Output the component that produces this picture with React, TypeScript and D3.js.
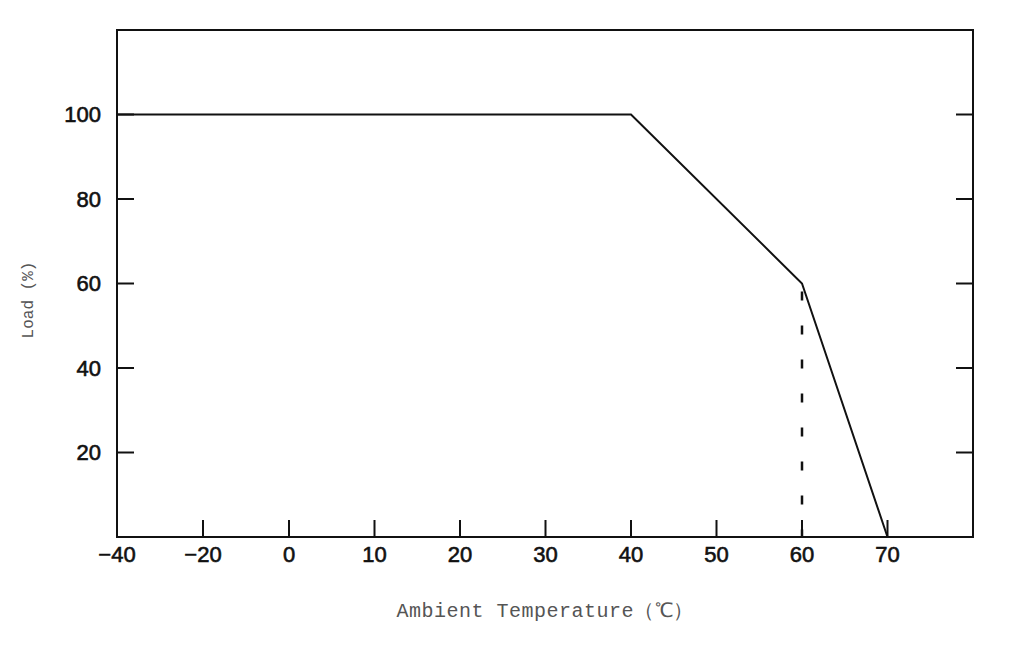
import React from "react";
import * as d3 from "d3";

// derating curve
const tempPoints = [-40, 40, 60, 70];
const loadPoints = [100, 100, 60, 0];
const xTicks = [-40, -20, 0, 10, 20, 30, 40, 50, 60, 70];
const yTicks = [20, 40, 60, 80, 100];
const dashTemp = 60;
const dashLoad = 60;

const W = 1024;
const H = 646;
const left = 117;
const right = 973;
const top = 30;
const bottom = 537;

export default function App() {
  // x axis is not uniform: -40..0 is squeezed, 0..80 at 10 per step
  const x = d3.scaleLinear().domain([-40, -20, 0, 80]).range([left, 203, 289, right]);
  const y = d3.scaleLinear().domain([0, 120]).range([bottom, top]);

  const line = d3
    .line<number>()
    .x((d, i) => x(tempPoints[i]))
    .y((d) => y(d));

  const tickLen = 17;
  const fmt = (v: number) => (v < 0 ? "\u2212" + Math.abs(v) : String(v));
  const tickFont = {
    fontFamily: "Liberation Sans, Arial, sans-serif",
    fontSize: 22,
    fill: "#111",
    stroke: "#111",
    strokeWidth: 0.6,
  };

  return (
    <svg
      width={W}
      height={H}
      style={{ position: "absolute", left: 0, top: 0, background: "#fff" }}
    >
      {/* frame */}
      <rect x={left} y={top} width={right - left} height={bottom - top} fill="none" stroke="#111" strokeWidth={2} />

      {/* y ticks, inside on both sides */}
      {yTicks.map((t) => (
        <g key={"y" + t}>
          <line x1={left} x2={left + tickLen} y1={y(t)} y2={y(t)} stroke="#111" strokeWidth={2} />
          <line x1={right} x2={right - tickLen} y1={y(t)} y2={y(t)} stroke="#111" strokeWidth={2} />
          <text x={left - 16} y={y(t)} dy="0.36em" textAnchor="end" {...tickFont}>
            {t}
          </text>
        </g>
      ))}

      {/* x ticks */}
      {xTicks.map((t) => (
        <g key={"x" + t}>
          {t !== -40 && (
            <line x1={x(t)} x2={x(t)} y1={bottom} y2={bottom - tickLen} stroke="#111" strokeWidth={2} />
          )}
          <text x={x(t)} y={bottom + 25} textAnchor="middle" {...tickFont}>
            {fmt(t)}
          </text>
        </g>
      ))}

      {/* dashed guide */}
      <line
        x1={x(dashTemp)}
        x2={x(dashTemp)}
        y1={y(dashLoad) + 8}
        y2={bottom}
        stroke="#111"
        strokeWidth={2.5}
        strokeDasharray="9 25"
      />

      {/* curve */}
      <path d={line(loadPoints) || ""} fill="none" stroke="#111" strokeWidth={2} />

      {/* axis titles */}
      <text
        x={545}
        y={617}
        textAnchor="middle"
        fontFamily="Liberation Mono, DejaVu Sans Mono, monospace"
        fontSize={20}
        letterSpacing={0.5}
        fill="#555"
      >
        Ambient Temperature（℃）
      </text>
      <text
        transform={`translate(33,300) rotate(-90)`}
        textAnchor="middle"
        fontFamily="Liberation Mono, DejaVu Sans Mono, monospace"
        fontSize={16}
        fill="#555"
      >
        Load (%)
      </text>
    </svg>
  );
}
